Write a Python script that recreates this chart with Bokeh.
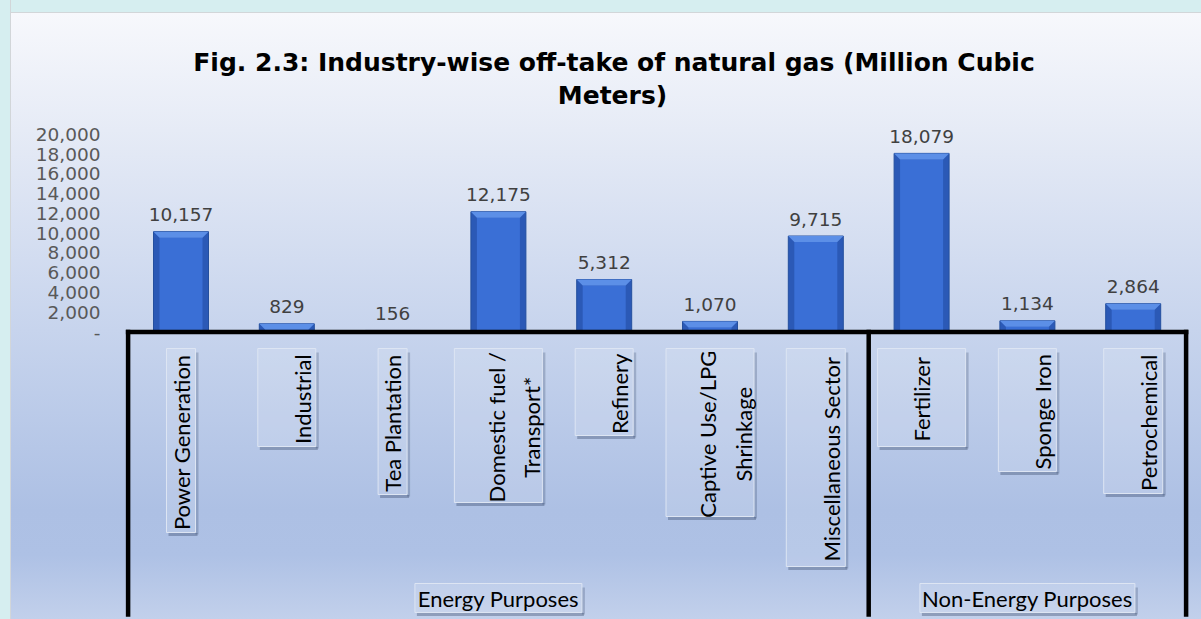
import numpy as np
from bokeh.plotting import figure
from bokeh.models import Range1d, FixedTicker, NumeralTickFormatter, Label
from bokeh.core.properties import value
from bokeh.embed import file_html
from bokeh.resources import INLINE

# ---------------- data ----------------
categories = ["Power Generation", "Industrial", "Tea Plantation", "Domestic fuel /\nTransport*",
              "Refinery", "Captive Use/LPG\nShrinkage", "Miscellaneous Sector",
              "Fertilizer", "Sponge Iron", "Petrochemical"]
offtake = [10157, 829, 156, 12175, 5312, 1070, 9715, 18079, 1134, 2864]
groups = ["Energy Purposes", "Non-Energy Purposes"]
group_sizes = [7, 3]
y_ticks = [0, 2000, 4000, 6000, 8000, 10000, 12000, 14000, 16000, 18000, 20000]
title_lines = ["Fig. 2.3: Industry-wise off-take of natural gas (Million Cubic", "Meters)"]

# ---------------- layout (page pixels) ----------------
OFF = 0
W, H = 1201, 619
FRAME_LEFT = 104 - OFF
CAT_PX = 105.8          # px per category
FIRST_CENTER_PX = 180.5 - OFF
ZERO_PX = 331.5 - OFF
K = 0.00988             # px per unit of value

x0 = -(FIRST_CENTER_PX - FRAME_LEFT) / CAT_PX
x1 = x0 + (W - FRAME_LEFT) / CAT_PX
y1 = ZERO_PX / K
y0 = -(H - ZERO_PX) / K

def X(page_px): return x0 + (page_px - OFF - FRAME_LEFT) / CAT_PX
def Y(page_py): return (ZERO_PX - (page_py - OFF)) / K
def dX(px): return px / CAT_PX
def dY(px): return px / K

box_w_px = [29, 58, 29, 88, 58, 88, 59, 88, 58, 59]
box_bottom_px = [532, 446, 494, 502, 435, 516, 566, 446, 471, 493]
text_dx_px = [0, 15.5, 0, 15.5, 15.5, 15.5, 15.5, 0, 15.5, 15.5]
BOX_TOP = 348
group_box_w_px = [167, 215]
GROUP_BOX_TOP, GROUP_BOX_BOTTOM = 583, 612
AXIS_BOTTOM = 614
LABEL_FONT = "Lato"
LABEL_SIZE = "22px"
SHADOW = "#1c2c4c"

bg = ("linear-gradient(to right, #d6eef0 0px, #d6eef0 10px, #d2d6d9 10px, #d2d6d9 11px, rgba(0,0,0,0) 11px), "
      "linear-gradient(to bottom, #d6eef0 0px, #d6eef0 12px, #d2d6d9 12px, #d2d6d9 13px, #f7f8fc 13px, "
      "#e6ebf6 130px, #c7d4ed 330px, #adc0e4 510px, #aec1e5 555px, #c2d0eb 619px)")

p = figure(width=W, height=H, output_backend="svg", toolbar_location=None,
           x_range=Range1d(x0, x1), y_range=Range1d(y0, y1),
           min_border_left=FRAME_LEFT, min_border_right=0, min_border_top=0, min_border_bottom=0)
p.styles = {"background-image": bg}
p.background_fill_alpha = 0
p.border_fill_alpha = 0
p.outline_line_color = None
p.xaxis.visible = False
p.xgrid.visible = False
p.ygrid.visible = False

ax = p.yaxis[0]
ax.ticker = FixedTicker(ticks=y_ticks)
ax.formatter = NumeralTickFormatter(format="0,0")
ax.major_label_overrides = {0: "-"}
ax.axis_line_color = None
ax.major_tick_line_color = None
ax.minor_tick_line_color = None
ax.major_tick_out = 0
ax.major_tick_in = 0
ax.major_label_standoff = 4
ax.major_label_text_font = "DejaVu Sans"
ax.major_label_text_font_size = "18.5px"
ax.major_label_text_color = "#595959"

idx = np.arange(len(categories))
vals = np.array(offtake, dtype=float)

# ---------------- bars (bevelled) ----------------
BAR_W = 55 / CAT_PX
bev_y = np.minimum(dY(6), vals)
bev_x = dX(6)
p.vbar(x=idx, top=vals, width=BAR_W, bottom=0, fill_color="#2b59b6", line_color="#244f9e", line_width=1)
p.quad(left=idx - BAR_W / 2 + bev_x, right=idx + BAR_W / 2 - bev_x, top=vals - bev_y, bottom=0,
       fill_color="#3a6fd6", line_color=None)
p.patches(xs=[[i - BAR_W / 2, i + BAR_W / 2, i + BAR_W / 2 - bev_x, i - BAR_W / 2 + bev_x] for i in idx],
          ys=[[v, v, v - b, v - b] for v, b in zip(vals, bev_y)],
          fill_color="#5c8fe7", line_color=None)

# data labels
p.text(x=idx, y=vals, text=[f"{v:,}" for v in offtake], text_align="center", text_baseline="alphabetic",
       y_offset=-17, text_font=value("DejaVu Sans"), text_font_size="18.5px", text_color="#404040")

# ---------------- category axis (multi-level) ----------------
bounds = np.concatenate([[0], np.cumsum(group_sizes)]) - 0.5
line_xs = [[bounds[0], bounds[-1]]] + [[b, b] for b in bounds]
line_ys = [[0, 0]] + [[0, Y(AXIS_BOTTOM)] for _ in bounds]

def label_boxes(xc, top_px, bottom_px, widths):
    bottom_px = np.asarray(bottom_px, dtype=float)
    widths = np.asarray(widths, dtype=float)
    cy = [Y((top_px + b) / 2) for b in bottom_px]
    hh = bottom_px - top_px
    # shadow: strip under the bottom edge and strip along the right edge
    p.rect(x=np.asarray(xc) + dX(2), y=[Y(b + 2) for b in bottom_px], width=widths, height=3,
           width_units="screen", height_units="screen", fill_color=SHADOW, fill_alpha=0.3, line_color=None)
    p.rect(x=np.asarray(xc) + dX(widths / 2 + 1.5), y=[c - dY(3) for c in cy], width=3, height=hh - 2,
           width_units="screen", height_units="screen", fill_color=SHADOW, fill_alpha=0.22, line_color=None)
    p.rect(x=xc, y=cy, width=widths, height=hh, width_units="screen", height_units="screen",
           fill_color="#ffffff", fill_alpha=0.13, line_color="#dde5f3", line_width=1)

label_boxes(idx, BOX_TOP, box_bottom_px, box_w_px)
p.text(x=idx, y=[Y((BOX_TOP + 5 + b - 1.5) / 2) for b in box_bottom_px], text=categories,
       x_offset=text_dx_px, angle=np.pi / 2, text_align="center", text_baseline="middle",
       text_line_height=1.3, text_font=value(LABEL_FONT), text_font_size=LABEL_SIZE, text_color="#000000")

gx = [(bounds[i] + bounds[i + 1]) / 2 for i in range(len(groups))]
label_boxes(gx, GROUP_BOX_TOP, [GROUP_BOX_BOTTOM] * len(groups), group_box_w_px)
p.text(x=gx, y=Y((GROUP_BOX_TOP + GROUP_BOX_BOTTOM) / 2), text=groups, text_align="center",
       text_baseline="middle", text_font=value(LABEL_FONT), text_font_size=LABEL_SIZE, text_color="#000000")

p.multi_line(xs=line_xs, ys=line_ys, line_color="#000000", line_width=4.5, line_cap="square")

# ---------------- title ----------------
for line, py, px in zip(title_lines, [62, 95], [613.5, 612]):
    p.add_layout(Label(x=X(px), y=Y(py), text=line, text_align="center", text_baseline="alphabetic",
                       text_font="DejaVu Sans", text_font_style="bold", text_font_size="25px",
                       text_color="#000000"))

open("out.html", "w").write(file_html(p, INLINE))
